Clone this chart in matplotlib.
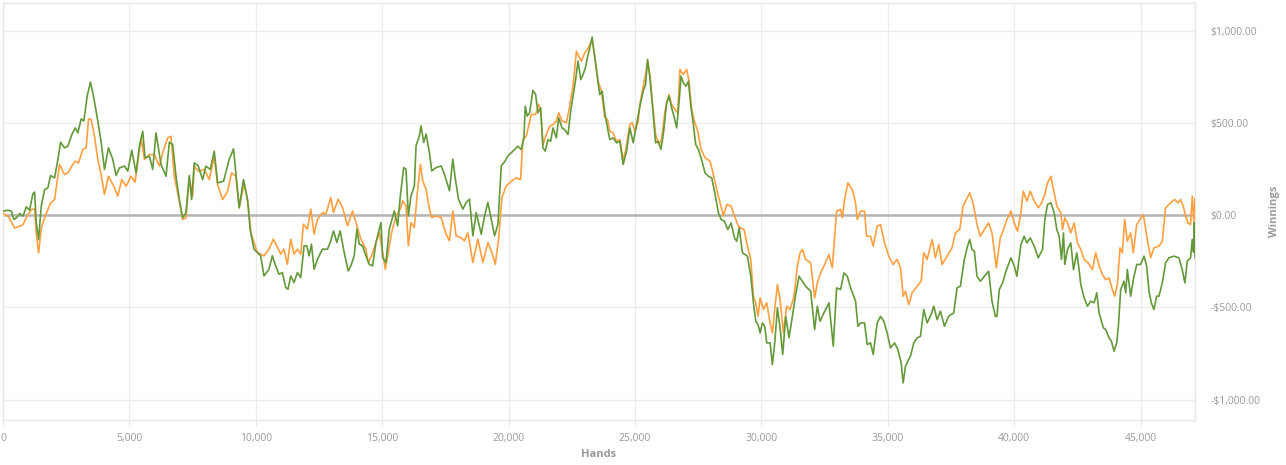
import numpy as np
import matplotlib
matplotlib.use("Agg")
import matplotlib.pyplot as plt
from matplotlib.ticker import FuncFormatter, MultipleLocator

# winnings (green)
green_hands = [0, 200, 330, 430, 530, 660, 790, 920, 1050, 1184, 1250, 1316, 1408, 1513, 1645, 1776, 1882, 2040, 2171, 2276,
               2434, 2566, 2724, 2855, 2961, 3092, 3197, 3329, 3461, 3592, 3750, 3882, 4014, 4171, 4343, 4474, 4606, 4803, 4935, 5093,
               5264, 5396, 5527, 5619, 5790, 5922, 6053, 6251, 6448, 6580, 6711, 6843, 6975, 7106, 7238, 7369, 7461, 7567, 7724, 7896,
               8027, 8198, 8356, 8488, 8724, 8948, 9119, 9212, 9343, 9514, 9672, 9778,
               9926, 10058, 10191, 10323, 10521, 10653, 10786, 10918, 11050, 11182, 11275, 11380, 11513, 11645, 11777, 11909, 12015, 12108, 12200, 12306,
               12438, 12636, 12835, 12967, 13072, 13205, 13337, 13496, 13654, 13760, 13892, 13998, 14090, 14223, 14355, 14487, 14619, 14752, 14950, 15016,
               15148, 15280, 15478, 15611, 15717, 15849, 15941, 16034, 16140, 16272, 16338, 16470, 16536, 16642, 16734, 16867, 16959, 17131, 17330, 17462,
               17660, 17792, 17885, 18017, 18189, 18321, 18453, 18585, 18718, 18916, 19048, 19180, 19313, 19445, 19577, 19709, 19868, 19974,
               20103, 20235, 20367, 20499, 20605, 20658, 20737, 20830, 20962, 21068, 21160, 21266, 21359, 21451, 21557, 21663, 21755, 21887, 21980, 22112,
               22218, 22350, 22456, 22548, 22641, 22747, 22853, 22945, 23038, 23117, 23210, 23302, 23408, 23540, 23606, 23699, 23804, 23910, 24003, 24135,
               24267, 24399, 24531, 24664, 24796, 24928, 25060, 25192, 25324, 25417, 25496, 25589, 25681, 25814, 25920, 26025, 26118, 26250, 26343, 26448,
               26554, 26647, 26739, 26819, 26911, 27017, 27110, 27215, 27308, 27400, 27506, 27612, 27770, 27903, 28035, 28167, 28299, 28405, 28537, 28669,
               28801, 28934, 29026, 29119,
               29250, 29447, 29579, 29684, 29776, 29868, 29947, 30039, 30132, 30210, 30342, 30434, 30526, 30632, 30737, 30842, 30961, 31092, 31224, 31355,
               31487, 31619, 31750, 31948, 32105, 32211, 32316, 32474, 32671, 32842, 32974, 33132, 33264, 33395, 33527, 33724, 33816, 33921, 34079, 34184,
               34316, 34421, 34579, 34711, 34842, 34974, 35106, 35264, 35396, 35527, 35606, 35698, 35790, 35896, 36027, 36159, 36290, 36422, 36554, 36712,
               36817, 36948, 37080, 37238, 37409, 37606, 37738, 37869, 38027, 38133, 38237, 38330, 38422, 38527, 38659, 38817, 38988, 39120, 39252,
               39316, 39408, 39540, 39671, 39869, 40000, 40105, 40263, 40395, 40500, 40632, 40790, 40948, 41119, 41211, 41316, 41448, 41579, 41685, 41777,
               41869, 41948, 42000, 42106, 42237, 42343, 42474, 42566, 42632, 42764, 42895, 43027, 43159, 43264, 43356, 43527, 43619, 43751, 43843, 43948,
               44053, 44119, 44211, 44343, 44409, 44474, 44606, 44711, 44843, 45001, 45132, 45238, 45330, 45422, 45527, 45632, 45724, 45856, 45988, 46119,
               46317, 46514, 46646, 46751, 46843, 46975, 47041, 47090, 47120, 47150]
green_won = [22, 27, 22, -23, -14, 9, -5, 45, 27, 117, 125, -42, -132, 49, 139, 148, 215, 202, 302, 396,
             365, 374, 437, 473, 446, 522, 510, 645, 721, 636, 510, 396, 248, 365, 302, 215, 256, 266, 239, 352,
             229, 374, 455, 311, 320, 248, 446, 275, 211, 396, 383, 211, 85, -14, 13, 215, 85, 284, 266, 193,
             266, 248, 347, 175, 184, 302, 360, 229, 40, 193, 85, -78,
             -184, -202, -220, -329, -293, -220, -275, -320, -311, -392, -401, -329, -365, -311, -338, -166, -166, -220, -157, -293,
             -239, -184, -184, -139, -85, -148, -85, -202, -302, -275, -220, -76, -157, -166, -220, -266, -275, -148, -40, -229,
             -257, -76, 23, -58, 105, 258, 249, -4, 105, 159, 376, 430, 484, 394, 439, 340, 240, 258, 267, 222,
             132, 304, 204, 87, 33, 69, 87, -112, 14, -103, -4, 69, -22, -112, -49, 267, 295, 322,
             338, 356, 374, 356, 419, 591, 537, 555, 676, 654, 555, 582, 365, 347, 410, 401, 473, 419, 528, 473,
             464, 437, 564, 645, 726, 835, 735, 763, 799, 853, 907, 965, 853, 717, 654, 672, 555, 473, 410, 419,
             392, 401, 275, 347, 473, 392, 492, 591, 672, 708, 844, 744, 609, 392, 401, 356, 437, 609, 645, 582,
             528, 473, 609, 754, 717, 699, 726, 582, 492, 383, 356, 311, 229, 211, 202, 112, 13, -23, -33, -78,
             -42, -123, -141, -69,
             -204, -222, -331, -475, -575, -593, -638, -584, -602, -692, -692, -810, -692, -502, -611, -755, -548, -665, -548, -430,
             -331, -358, -385, -412, -620, -493, -575, -529, -475, -710, -394, -403, -313, -331, -394, -466, -602, -584, -584, -701,
             -692, -755, -584, -548, -575, -638, -719, -692, -728, -800, -909, -819, -791, -764, -692, -665, -656, -511, -584, -538,
             -493, -566, -520, -602, -547, -529, -394, -385, -240, -177, -132, -186, -195, -331, -358, -331, -304, -466, -548,
             -548, -403, -367, -304, -231, -276, -331, -159, -114, -150, -123, -168, -231, -186, -23, 58, 67, 13, -78, -114,
             -240, -96, -267, -186, -150, -295, -204, -295, -376, -448, -493, -466, -475, -421, -529, -611, -620, -665, -683, -737,
             -692, -602, -403, -358, -421, -295, -439, -349, -267, -267, -222, -276, -412, -475, -511, -439, -439, -367, -258, -231,
             -222, -231, -295, -367, -249, -231, -132, -200, -40, -230]

# orange series
orange_hands = [0, 200, 460, 660, 790, 920, 1118, 1250, 1316, 1408, 1513, 1671, 1882, 2040, 2237, 2434, 2566, 2724, 2855, 2987,
                3158, 3290, 3382, 3487, 3619, 3750, 3882, 4014, 4171, 4382, 4540, 4698, 4869, 5066, 5224, 5461, 5593, 5790, 5988, 6185,
                6317, 6514, 6645, 6777, 6975, 7106, 7238, 7369, 7501, 7567, 7724, 7961, 8159, 8356, 8488, 8685, 8883, 9040, 9212, 9343,
                9540, 9698, 9804,
                10058, 10323, 10521, 10693, 10825, 10984, 11116, 11248, 11380, 11513, 11645, 11777, 11883, 12041, 12173, 12306, 12438, 12636, 12769, 12967,
                13072, 13258, 13430, 13628, 13826, 13998, 14157, 14355, 14447, 14580, 14752, 14884, 15016, 15122, 15241, 15373, 15544, 15717, 15809, 15941,
                16034, 16140, 16272, 16378, 16510, 16602, 16734, 16867, 16959, 17131, 17330, 17528, 17660, 17792, 17925, 18097, 18255, 18387, 18585, 18784,
                18982, 19180, 19339, 19471, 19603, 19736, 19908,
                20103, 20301, 20473, 20565, 20697, 20896, 21068, 21187, 21266, 21359, 21491, 21623, 21755, 21887, 21980, 22112, 22284, 22416, 22548, 22680,
                22773, 22879, 23011, 23117, 23210, 23302, 23434, 23540, 23672, 23804, 23910, 24003, 24135, 24267, 24399, 24531, 24624, 24796, 24888, 24994,
                25126, 25192, 25324, 25417, 25496, 25589, 25681, 25814, 25946, 26052, 26184, 26343, 26448, 26580, 26686, 26778, 26911, 27043, 27136, 27242,
                27347, 27480, 27612, 27770, 27968, 28101, 28233, 28365, 28497, 28630, 28801, 28960, 29093,
                29184, 29316, 29447, 29579, 29684, 29776, 29868, 29947, 30079, 30210, 30342, 30434, 30526, 30632, 30737, 30869, 31000, 31132, 31290, 31421,
                31526, 31619, 31750, 31948, 32105, 32211, 32342, 32500, 32671, 32803, 32974, 33132, 33197, 33290, 33421, 33592, 33724, 33790, 33921, 34079,
                34158, 34316, 34421, 34579, 34711, 34869, 35040, 35211, 35369, 35501, 35606, 35698, 35829, 35961, 36159, 36317, 36422, 36554, 36751, 36882,
                37014, 37146, 37343, 37541, 37672, 37843, 37975, 38106, 38237, 38369, 38527, 38659, 38856, 38988, 39120, 39291,
                39448, 39579, 39711, 39869, 40000, 40132, 40263, 40355, 40500, 40632, 40763, 40948, 41079, 41211, 41316, 41448, 41579, 41685, 41843, 41908,
                42000, 42132, 42237, 42369, 42500, 42632, 42764, 42922, 43093, 43224, 43356, 43488, 43619, 43751, 43882, 43974, 44079, 44184, 44277, 44369,
                44474, 44606, 44711, 44843, 44974, 45106, 45264, 45395, 45527, 45724, 45856, 45988, 46119, 46251, 46343, 46475, 46580, 46685, 46777, 46869,
                46975, 47041, 47107, 47146]
orange_won = [9, -5, -69, -60, -51, -14, 31, 34, -96, -204, -69, -5, 67, 85, 275, 220, 229, 266, 293, 284,
              356, 365, 522, 519, 428, 302, 220, 112, 211, 157, 103, 193, 157, 211, 179, 419, 302, 329, 329, 266,
              338, 419, 428, 211, 76, -23, -14, 202, 103, 266, 239, 248, 193, 320, 166, 85, 130, 229, 211, 40,
              175, 58, -96,
              -202, -220, -184, -130, -166, -211, -184, -266, -130, -211, -184, -211, -49, -76, 33, -103, -22, 14, 5, 96,
              14, 87, 42, -58, 23, -58, -130, -184, -257, -220, -148, -94, -202, -293, -202, -94, -4, 33, 78, 51,
              -166, -40, -67, 105, 276, 186, 141, 33, -13, -4, -13, -103, -139, 23, -112, -121, -139, -94, -257, -130,
              -257, -148, -202, -266, -130, 96, 159,
              184, 202, 193, 410, 428, 546, 546, 600, 573, 383, 437, 482, 491, 510, 555, 510, 501, 591, 699, 889,
              862, 835, 880, 898, 925, 952, 835, 726, 672, 528, 519, 455, 446, 401, 410, 302, 347, 492, 501, 455,
              510, 600, 699, 763, 835, 763, 618, 437, 383, 410, 564, 654, 600, 573, 555, 790, 763, 790, 726, 573,
              510, 455, 356, 311, 293, 220, 139, 67, -5, 58, 49, -14, -60,
              -69, -78, -168, -240, -439, -475, -548, -448, -511, -475, -584, -638, -511, -376, -457, -638, -493, -511, -439, -276,
              -204, -186, -240, -258, -448, -367, -313, -267, -213, -285, 22, 31, -14, 85, 175, 139, 67, -23, 22, 22,
              -114, -114, -168, -60, -51, -150, -222, -267, -240, -285, -439, -412, -484, -421, -385, -358, -204, -240, -132, -231,
              -159, -267, -222, -177, -96, -78, 49, 85, 121, 67, -51, -114, -69, -42, -96, -285,
              -123, -78, -23, 22, -42, -87, 13, 130, 76, 130, 85, 40, 67, 112, 175, 211, 121, 49, 13, -78,
              -14, -51, -96, -42, -150, -186, -240, -258, -295, -204, -276, -322, -349, -340, -403, -439, -376, -177, -204, -23,
              -141, -96, -204, -51, -23, 4, -132, -231, -177, -168, -141, 40, 58, 76, 85, 67, 85, 49, -5, -42,
              -51, 103, -42, 90]

x_ticks = [0, 5000, 10000, 15000, 20000, 25000, 30000, 35000, 40000, 45000]
y_ticks = [-1000, -500, 0, 500, 1000]

plt.rcParams['font.family'] = ['Open Sans', 'DejaVu Sans']

fig = plt.figure(figsize=(12.86, 4.65), dpi=100)
ax = fig.add_axes([3 / 1286, 1 - 420 / 465, 1192 / 1286, 417 / 465])

ax.plot(orange_hands, orange_won, color='#ffa040', lw=1.2, zorder=3)
ax.plot(green_hands, green_won, color='#64993a', lw=1.2, zorder=4)
ax.axhline(0, color='#b4b4b4', lw=1.8, zorder=2)

ax.set_xlim(0, 47150)
ax.set_ylim(-1110, 1150)
ax.set_xticks(x_ticks)
ax.set_yticks(y_ticks)
ax.xaxis.set_major_formatter(FuncFormatter(lambda v, p: f"{int(v):,}"))


def money(v, p):
    s = f"${abs(v):,.2f}"
    return "-" + s if v < 0 else s


ax.yaxis.set_major_formatter(FuncFormatter(money))
ax.yaxis.tick_right()
ax.yaxis.set_label_position("right")

ax.grid(True, color='#ececec', lw=1, zorder=0)
for s in ax.spines.values():
    s.set_color('#e6e6e6')
    s.set_linewidth(1)
ax.tick_params(axis='x', colors='#e6e6e6', labelcolor='#9a9a9a', length=4, labelsize=7.5, pad=5)
ax.tick_params(axis='y', length=0, labelcolor='#9a9a9a', labelsize=7.5, pad=11)

ax.set_xlabel("Hands", color='#9a9a9a', fontsize=8, fontweight='bold', labelpad=4)
ax.set_ylabel("Winnings", color='#9a9a9a', fontsize=8, fontweight='bold', rotation=90, labelpad=6)

fig.savefig("out.png", dpi=100)
